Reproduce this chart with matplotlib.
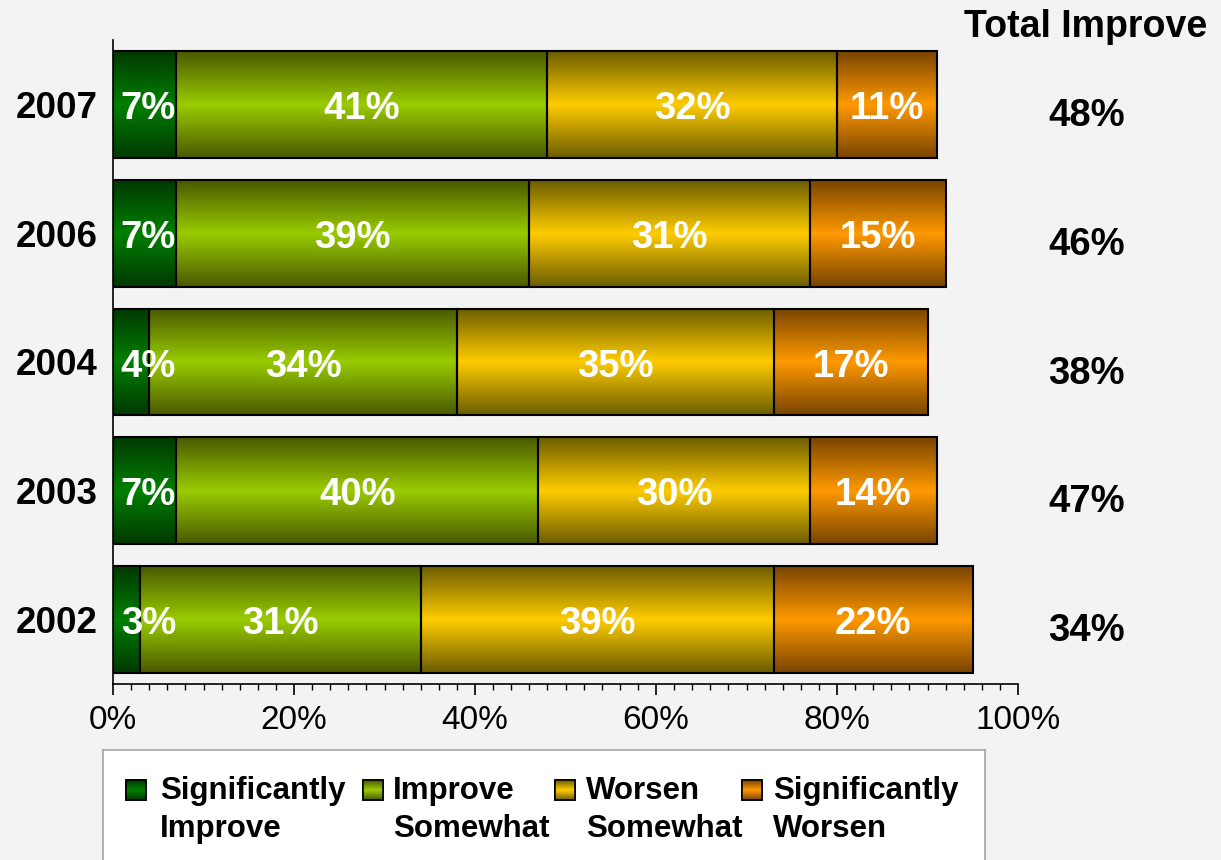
import numpy as np
import matplotlib
matplotlib.use("Agg")
import matplotlib.pyplot as plt
from matplotlib.colors import LinearSegmentedColormap
from matplotlib.patches import Rectangle
from matplotlib.ticker import MultipleLocator
import matplotlib.transforms as mtransforms

plt.rcParams["font.family"] = ["Liberation Sans", "DejaVu Sans"]

# Survey results by year (bottom to top)
years = ["2002", "2003", "2004", "2006", "2007"]
series_names = ["Significantly\nImprove", "Improve\nSomewhat",
                "Worsen\nSomewhat", "Significantly\nWorsen"]
sig_improve = [3, 7, 4, 7, 7]
improve_somewhat = [31, 40, 34, 39, 41]
worsen_somewhat = [39, 30, 35, 31, 32]
sig_worsen = [22, 14, 17, 15, 11]
mid_colors = ["#008000", "#99CC00", "#FFCC00", "#FF9900"]
edge_colors = ["#003800", "#4A5800", "#6B5C00", "#784400"]
xticks = [0, 20, 40, 60, 80, 100]
xtick_labels = ["0%", "20%", "40%", "60%", "80%", "100%"]
total_header = "Total Improve"

series = [sig_improve, improve_somewhat, worsen_somewhat, sig_worsen]
bg = "#F3F3F3"

fig = plt.figure(figsize=(12.21, 8.60), dpi=100, facecolor=bg)
ax = fig.add_axes([113 / 1221, 1 - 684 / 860, 905 / 1221, 644 / 860])
ax.set_facecolor(bg)

grad = np.linspace(0, 1, 256).reshape(-1, 1)


def make_cmap(edge, mid):
    return LinearSegmentedColormap.from_list(
        "shade", [(0.0, edge), (0.5, mid), (1.0, edge)])


def shade_patch(axis, patch, cmap, z):
    x0, y0 = patch.get_x(), patch.get_y()
    w, h = patch.get_width(), patch.get_height()
    im = axis.imshow(grad, cmap=cmap, extent=[x0, x0 + w, y0, y0 + h],
                     aspect="auto", origin="lower", zorder=z,
                     interpolation="bilinear")
    im.set_clip_path(patch)


ypos = np.arange(len(years))
bar_h = 0.83
left = np.zeros(len(years))
for k, vals in enumerate(series):
    vals = np.array(vals, dtype=float)
    cmap = make_cmap(edge_colors[k], mid_colors[k])
    bars = ax.barh(ypos, vals, left=left, height=bar_h,
                   color=mid_colors[k], linewidth=0, zorder=2)
    for b in bars:
        shade_patch(ax, b, cmap, 2.5)
    ax.barh(ypos, vals, left=left, height=bar_h, fill=False,
            edgecolor="black", linewidth=1.5, zorder=4)
    for i, v in enumerate(vals):
        cx = left[i] + v / 2
        if k == 0:
            cx = max(cx, 3.9)
        ax.text(cx, ypos[i] - 0.035, f"{int(v)}%", ha="center", va="center",
                color="white", fontsize=27.5, fontweight="bold", zorder=5)
    left += vals

# Total improve column
totals = np.array(sig_improve) + np.array(improve_somewhat)
trans = mtransforms.blended_transform_factory(ax.transAxes, ax.transData)
for i, t in enumerate(totals):
    ax.text(1.076, ypos[i] - 0.09, f"{t}%", transform=trans, ha="center",
            va="center", fontsize=27.5, fontweight="bold", clip_on=False)
fig.text(1086 / 1221, 1 - 27 / 860, total_header, ha="center", va="center",
         fontsize=27, fontweight="bold")

ax.set_xlim(0, 100)
ax.set_ylim(-0.5, len(years) - 0.5)
ax.set_xticks(xticks)
ax.set_xticklabels(xtick_labels, fontsize=24)
ax.xaxis.set_minor_locator(MultipleLocator(2))
ax.tick_params(axis="x", which="major", direction="out", length=8, width=1.2,
               pad=7, color="black")
ax.tick_params(axis="x", which="minor", direction="out", length=4.5, width=1,
               color="black")
ax.set_yticks(ypos)
ax.set_yticklabels(years, fontsize=26.5, fontweight="bold")
ax.tick_params(axis="y", length=0, pad=11)
for s in ["top", "right"]:
    ax.spines[s].set_visible(False)
for s in ["left", "bottom"]:
    ax.spines[s].set_linewidth(1.2)
    ax.spines[s].set_color("black")

# Legend panel
lax = fig.add_axes([103 / 1221, -0.05, 882 / 1221, 0.1279 + 0.05])
lax.set_facecolor("white")
lax.set_xticks([])
lax.set_yticks([])
for s in lax.spines.values():
    s.set_color("#A6A6A6")
    s.set_linewidth(1.2)

marker_x = [23, 260, 452, 639]
text_x = [57, 290, 483, 670]
for k, name in enumerate(series_names):
    sq = Rectangle((marker_x[k], 60), 20, 20, facecolor=mid_colors[k],
                   edgecolor="black", linewidth=1.2, zorder=2)
    lax.add_patch(sq)
    shade_patch(lax, sq, make_cmap(edge_colors[k], mid_colors[k]), 2.5)
    lax.add_patch(Rectangle((marker_x[k], 60), 20, 20, fill=False,
                            edgecolor="black", linewidth=1.2, zorder=3))
    lax.text(text_x[k], 50, name, ha="left", va="center", fontsize=22.5,
             fontweight="bold", linespacing=1.36)
lax.set_xlim(0, 882)
lax.set_ylim(-43, 110)

fig.savefig("out.png", dpi=100, facecolor=bg)
